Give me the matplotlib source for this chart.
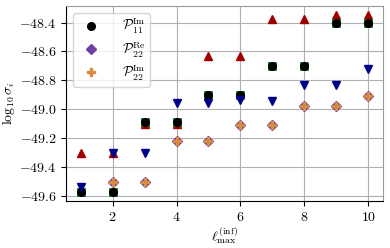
import matplotlib
matplotlib.use("Agg")
import matplotlib.pyplot as plt
import numpy as np

plt.rcParams['font.family'] = 'serif'
plt.rcParams['font.serif'] = ['cmr10', 'DejaVu Serif']
plt.rcParams['mathtext.fontset'] = 'cm'
plt.rcParams['axes.formatter.use_mathtext'] = True
plt.rcParams['font.size'] = 10

lmax = [1, 2, 3, 4, 5, 6, 7, 8, 9, 10]
# P11 Im (black) and its hidden green twin
p11_im = [-49.57, -49.57, -49.09, -49.09, -48.90, -48.90, -48.70, -48.70, -48.40, -48.40]
# extra series (not in legend)
up_red = [-49.30, -49.30, -49.10, -49.10, -48.63, -48.63, -48.375, -48.375, -48.35, -48.35]
down_blue = [-49.54, -49.30, -49.30, -48.96, -48.96, -48.935, -48.94, -48.83, -48.83, -48.72]
# P22 Re / P22 Im (overlapping), no point visible at lmax=1
lmax22 = [2, 3, 4, 5, 6, 7, 8, 9, 10]
p22 = [-49.50, -49.50, -49.22, -49.22, -49.11, -49.11, -48.98, -48.98, -48.905]

fig, ax = plt.subplots(figsize=(3.9, 2.48), dpi=100)
fig.subplots_adjust(left=0.17, right=0.981, top=0.976, bottom=0.19)

ax.grid(True, color='#b0b0b0', lw=0.8, zorder=0)
ax.set_axisbelow(True)

ax.plot(lmax, up_red, '^', color='#a00000', ms=5.5, ls='none', zorder=2)
ax.plot(lmax, p11_im, 's', mfc='black', mec='#1a8a1a', mew=0.6, ms=5.5, ls='none', zorder=3)
ax.plot(lmax, p11_im, 'o', color='black', ms=5.5, ls='none', zorder=4, label=r'$\mathcal{P}_{11}^{\rm Im}$')
ax.plot(lmax, down_blue, 'v', color='#00008b', ms=5.5, ls='none', zorder=5)
ax.plot(lmax22, p22, 'D', color='#7040a0', ms=5, ls='none', zorder=6, label=r'$\mathcal{P}_{22}^{\rm Re}$')
ax.plot(lmax22, p22, 'P', color='#d98c40', ms=5.8, ls='none', zorder=7, label=r'$\mathcal{P}_{22}^{\rm Im}$')

ax.set_xlim(0.55, 10.45)
ax.set_ylim(-49.634, -48.285)
ax.set_xticks([2, 4, 6, 8, 10])
ax.set_yticks([-49.6, -49.4, -49.2, -49.0, -48.8, -48.6, -48.4])
ax.set_xlabel(r'$\ell_{\rm max}^{(\rm inf)}$', labelpad=1)
ax.set_ylabel(r'$\log_{10}\sigma_i$', labelpad=2)

for s in ['top', 'right']:
    ax.spines[s].set_color('#999999')

ax.legend(loc='upper left', fontsize=10, handletextpad=1.2, borderpad=0.3,
          labelspacing=0.3, framealpha=0.8)

fig.savefig('out.png', dpi=100)
